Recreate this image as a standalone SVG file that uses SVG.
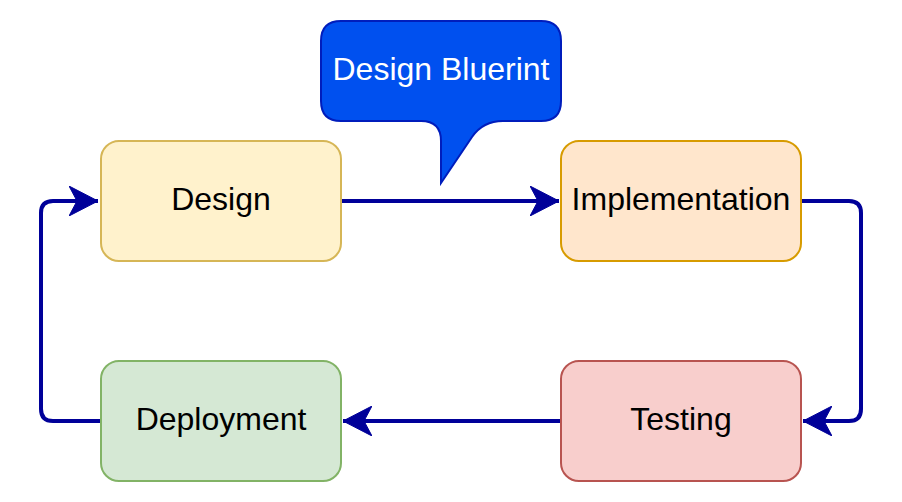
<svg xmlns="http://www.w3.org/2000/svg" width="902" height="502" viewBox="0 0 902 502">
  <defs>
    <style>
      .box { stroke-width: 2; }
      .lbl { font-family: "Liberation Sans", Arial, Helvetica, sans-serif; font-size: 32px; fill: #000000; text-anchor: middle; }
      .wlbl { font-family: "Liberation Sans", Arial, Helvetica, sans-serif; font-size: 32px; fill: #ffffff; text-anchor: middle; }
      .edge { fill: none; stroke: #000099; stroke-width: 4; stroke-linejoin: round; }
    </style>
    <marker id="arrow" markerUnits="userSpaceOnUse" viewBox="0 0 30 30" refX="29" refY="15" markerWidth="30" markerHeight="30" orient="auto">
      <path d="M 29 15 L 0 0 L 8 15 L 0 30 Z" fill="#000099" stroke="#000099" stroke-width="1"/>
    </marker>
  </defs>
  <rect width="902" height="502" fill="#ffffff"/>

  <g id="callout">
    <path d="M 341 21 L 541 21 Q 561 21 561 41 L 561 101 Q 561 121 541 121 L 503 121 Q 483 121 472 137 L 441 183 L 441 141 Q 441 121 421 121 L 341 121 Q 321 121 321 101 L 321 41 Q 321 21 341 21 Z" fill="#0050ef" stroke="#001dbc" stroke-width="2"/>
    <text class="wlbl" x="441" y="80">Design Bluerint</text>
  </g>

  <g id="edges">
    <path class="edge" d="M 341 201 L 559 201" marker-end="url(#arrow)"/>
    <path class="edge" d="M 801 201 L 849 201 Q 861 201 861 213 L 861 409 Q 861 421 849 421 L 803 421" marker-end="url(#arrow)"/>
    <path class="edge" d="M 561 421 L 343 421" marker-end="url(#arrow)"/>
    <path class="edge" d="M 100 421 L 53 421 Q 41 421 41 409 L 41 213 Q 41 201 53 201 L 98 201" marker-end="url(#arrow)"/>
  </g>

  <g id="design">
    <rect class="box" x="101" y="141" width="240" height="120" rx="18" ry="18" fill="#fff2cc" stroke="#d6b656"/>
    <text class="lbl" x="221" y="210">Design</text>
  </g>
  <g id="implementation">
    <rect class="box" x="561" y="141" width="240" height="120" rx="18" ry="18" fill="#ffe6cc" stroke="#d79b00"/>
    <text class="lbl" x="681" y="210">Implementation</text>
  </g>
  <g id="testing">
    <rect class="box" x="561" y="361" width="240" height="120" rx="18" ry="18" fill="#f8cecc" stroke="#b85450"/>
    <text class="lbl" x="681" y="430">Testing</text>
  </g>
  <g id="deployment">
    <rect class="box" x="101" y="361" width="240" height="120" rx="18" ry="18" fill="#d5e8d4" stroke="#82b366"/>
    <text class="lbl" x="221" y="430">Deployment</text>
  </g>
</svg>
